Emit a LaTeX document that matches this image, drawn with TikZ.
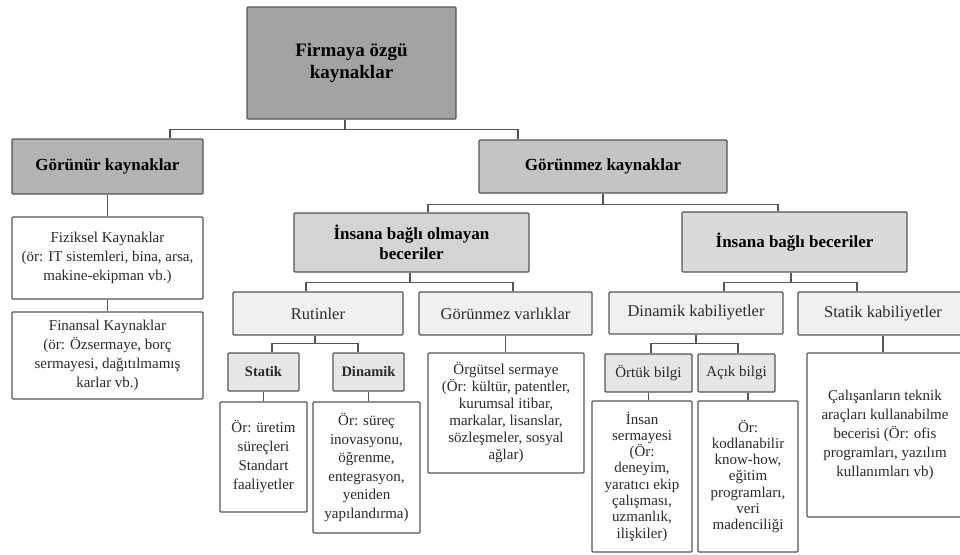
\documentclass[tikz,border=0pt]{standalone}
\usepackage{fontspec}
\setmainfont{Liberation Serif}
\definecolor{lineg}{HTML}{555555}
\definecolor{fillA}{HTML}{A3A3A3}
\definecolor{fillB}{HTML}{B3B3B3}
\definecolor{fillC}{HTML}{C4C4C4}
\definecolor{fillD}{HTML}{D4D4D4}
\definecolor{fillE}{HTML}{F0F0F0}
\definecolor{fillF}{HTML}{E6E6E6}
\definecolor{txt}{HTML}{2A2A2A}
\begin{document}
\begin{tikzpicture}[x=1pt,y=-1pt,
  box/.style={draw=lineg, line width=1.2pt, rounded corners=1pt, align=center, inner sep=1pt, text=txt},
  conn/.style={draw=lineg, line width=1.2pt},
  headfont/.style={font=\bfseries\fontsize{19}{22}\selectfont},
  lvlone/.style={font=\bfseries\fontsize{17}{20}\selectfont},
  lvltwo/.style={font=\fontsize{16.5}{19}\selectfont},
  smallbold/.style={font=\bfseries\fontsize{14.5}{17}\selectfont},
  smallreg/.style={font=\fontsize{15}{17}\selectfont},
  bodyfont/.style={font=\fontsize{15}{19}\selectfont},
  bodytight/.style={font=\fontsize{15}{17}\selectfont},
  bodyvtight/.style={font=\fontsize{15}{16.3}\selectfont}
]
\useasboundingbox (0,0) rectangle (960,554);

% level 0
\node[box, fill=fillA, headfont, text=black, minimum width=209pt, minimum height=112pt] (top) at (351.5,63) {Firmaya özgü\\kaynaklar};

% level 1
\node[box, fill=fillB, lvlone, text=black, minimum width=191pt, minimum height=55pt] (gorunur) at (107.5,166.5) {Görünür kaynaklar};
\node[box, fill=fillC, lvlone, text=black, minimum width=248pt, minimum height=53pt] (gorunmez) at (603,166.5) {Görünmez kaynaklar};

% left column
\node[box, fill=white, bodyfont, minimum width=191pt, minimum height=82pt] (fiziksel) at (107.5,258) {Fiziksel Kaynaklar\\(ör: IT sistemleri, bina, arsa,\\makine-ekipman vb.)};
\node[box, fill=white, bodyfont, minimum width=191pt, minimum height=87pt] (finansal) at (107.5,355.5) {Finansal Kaynaklar\\(ör: Özsermaye, borç\\sermayesi, dağıtılmamış\\karlar vb.)};

% level 2
\node[box, fill=fillD, lvlone, text=black, minimum width=235pt, minimum height=59pt] (olmayan) at (411.5,242.5) {İnsana bağlı olmayan\\beceriler};
\node[box, fill=fillD!85!white, lvlone, text=black, minimum width=225pt, minimum height=60pt] (bagli) at (794.5,242) {İnsana bağlı beceriler};

% level 3
\node[box, fill=fillE, lvltwo, minimum width=170pt, minimum height=43pt] (rutinler) at (318,313.5) {Rutinler};
\node[box, fill=fillE, lvltwo, minimum width=173pt, minimum height=43pt] (gvarlik) at (505.5,313.5) {Görünmez varlıklar};
\node[box, fill=fillE, lvltwo, minimum width=174pt, minimum height=42pt] (dinkab) at (696,313) {Dinamik kabiliyetler};
\node[box, fill=fillE, lvltwo, minimum width=170pt, minimum height=43pt] (statkab) at (883,313.5) {Statik kabiliyetler};

% level 4
\node[box, fill=fillF, smallbold, minimum width=71pt, minimum height=38pt] (statik) at (263.5,372) {Statik};
\node[box, fill=fillF, smallbold, minimum width=71pt, minimum height=38pt] (dinamik) at (368.5,372) {Dinamik};
\node[box, fill=fillF, smallreg, minimum width=87pt, minimum height=38pt] (ortuk) at (648.5,373) {Örtük bilgi};
\node[box, fill=fillF, smallreg, minimum width=77pt, minimum height=38pt] (acik) at (736.5,373) {Açık bilgi};

% leaves
\node[box, fill=white, bodyfont, minimum width=87pt, minimum height=110pt] (uretim) at (263.5,457) {Ör: üretim\\süreçleri\\Standart\\faaliyetler};
\node[box, fill=white, font=\fontsize{15}{18.5}\selectfont, minimum width=107pt, minimum height=131pt] (surec) at (366.5,467.5) {Ör: süreç\\inovasyonu,\\öğrenme,\\entegrasyon,\\yeniden\\yapılandırma)};
\node[box, fill=white, bodytight, minimum width=156pt, minimum height=120pt] (orgutsel) at (506,413) {Örgütsel sermaye\\(Ör: kültür, patentler,\\kurumsal itibar,\\markalar, lisanslar,\\sözleşmeler, sosyal\\ağlar)};
\node[box, fill=white, bodyvtight, minimum width=100pt, minimum height=151pt] (insan) at (642,476.5) {İnsan\\sermayesi\\(Ör:\\deneyim,\\yaratıcı ekip\\çalışması,\\uzmanlık,\\ilişkiler)};
\node[box, fill=white, bodyvtight, minimum width=100pt, minimum height=151pt] (kodlan) at (748,476.5) {Ör:\\kodlanabilir\\know-how,\\eğitim\\programları,\\veri\\madenciliği};
\node[box, fill=white, bodyfont, minimum width=156pt, minimum height=164pt] (calisan) at (885,435) {Çalışanların teknik\\araçları kullanabilme\\becerisi (Ör: ofis\\programları, yazılım\\kullanımları vb)};

% connectors
\draw[conn] ([xshift=-6.5pt]top.south) -- ++(0,10) -| ([xshift=62.5pt]gorunur.north);
\draw[conn] ([xshift=-6.5pt]top.south) -- ++(0,10) -| ([xshift=-85pt]gorunmez.north);
\draw[conn] (gorunur.south) -- (fiziksel.north);
\draw[conn] (fiziksel.south) -- (finansal.north);
\draw[conn] (gorunmez.south) -- ++(0,11) -| ([xshift=16.5pt]olmayan.north);
\draw[conn] (gorunmez.south) -- ++(0,11) -| ([xshift=-16.5pt]bagli.north);
\draw[conn] ([xshift=-1.5pt]olmayan.south) -- ++(0,10) -| ([xshift=-12pt]rutinler.north);
\draw[conn] ([xshift=-1.5pt]olmayan.south) -- ++(0,10) -| ([xshift=7.5pt]gvarlik.north);
\draw[conn] ([xshift=-3.5pt]bagli.south) -- ++(0,10) -| ([xshift=28pt]dinkab.north);
\draw[conn] ([xshift=-3.5pt]bagli.south) -- ++(0,10) -| ([xshift=-26pt]statkab.north);
\draw[conn] ([xshift=-3pt]rutinler.south) -- ++(0,8) -| ([xshift=8.5pt]statik.north);
\draw[conn] ([xshift=-3pt]rutinler.south) -- ++(0,8) -| ([xshift=-10.5pt]dinamik.north);
\draw[conn] (dinkab.south) -- ++(0,9) -| ([xshift=2.5pt]ortuk.north);
\draw[conn] (dinkab.south) -- ++(0,9) -| ([xshift=1.5pt]acik.north);
\draw[conn] (statik.south) -- (uretim.north);
\draw[conn] (dinamik.south) -- (dinamik.south |- surec.north);
\draw[conn] (gvarlik.south) -- (gvarlik.south |- orgutsel.north);
\draw[conn] (ortuk.south) -- (ortuk.south |- insan.north);
\draw[conn] (kodlan.north |- acik.south) -- (kodlan.north);
\draw[conn] (statkab.south) -- (statkab.south |- calisan.north);
\end{tikzpicture}
\end{document}
